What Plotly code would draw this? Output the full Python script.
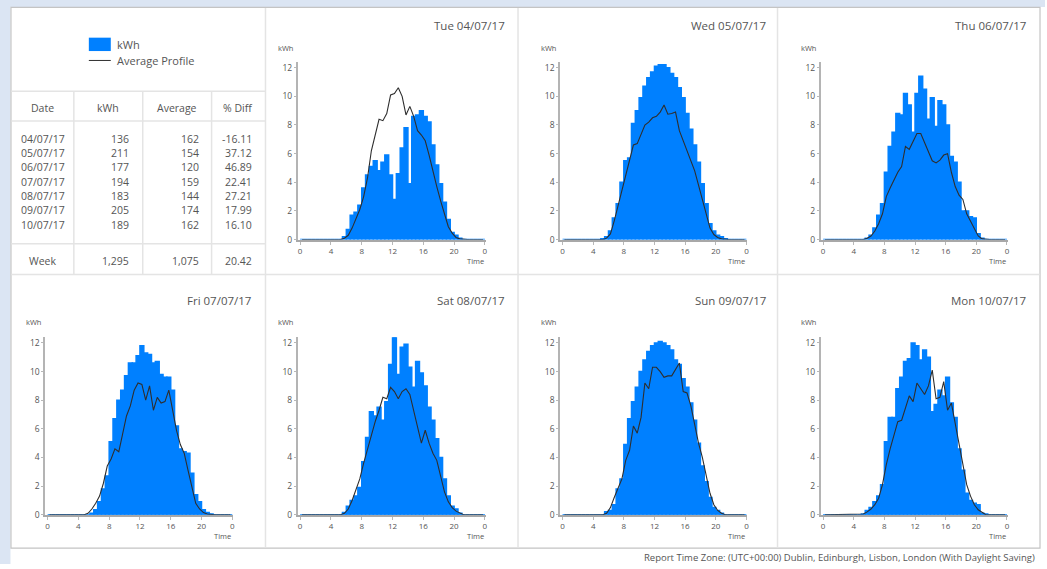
import plotly.graph_objects as go

W, H = 1047, 569

# ---------------- data ----------------
hours = [i * 0.5 + 0.25 for i in range(48)]          # half-hour slot centres
tick_vals = [0, 4, 8, 12, 16, 20, 24]
tick_text = ["0", "4", "8", "12", "16", "20", "0"]
y_ticks = [0, 2, 4, 6, 8, 10, 12]

kwh_tue = [0, 0, 0, 0, 0, 0, 0, 0, 0, 0, 0, 0.2,
           0.7, 1.7, 1.9, 2.4, 3.6, 4.5, 5.1, 5.5, 4.8, 5.4, 5.9, 4.5,
           2.8, 4.6, 6.4, 7.8, 3.9, 8.6, 8.7, 9.0, 8.6, 8.2, 6.6, 5.2,
           3.9, 2.6, 1.4, 0.5, 0.3, 0.1, 0, 0, 0, 0, 0, 0]
avg_tue = [0, 0, 0, 0, 0, 0, 0, 0, 0, 0, 0, 0.1,
           0.3, 0.8, 1.4, 2.1, 3.0, 4.3, 6.2, 7.3, 8.4, 8.3, 8.8, 10.1,
           10.2, 10.6, 10.0, 8.7, 9.3, 8.6, 7.6, 7.3, 6.9, 5.9, 4.7, 3.7,
           2.7, 1.7, 0.9, 0.45, 0.15, 0.05, 0, 0, 0, 0, 0, 0]

kwh_wed = [0, 0, 0, 0, 0, 0, 0, 0, 0, 0, 0.05, 0.2,
           0.6, 1.5, 2.5, 4.0, 5.5, 5.7, 8.1, 9.0, 9.9, 10.7, 11.3, 11.7,
           12.1, 12.2, 12.2, 12.0, 11.6, 11.3, 10.6, 9.9, 8.8, 7.7, 6.6, 5.4,
           3.9, 2.5, 1.1, 0.6, 0.3, 0.2, 0.05, 0, 0, 0, 0, 0]
avg_wed = [0, 0, 0, 0, 0, 0, 0, 0, 0, 0, 0, 0.1,
           0.4, 1.3, 2.4, 3.5, 4.6, 5.7, 6.6, 6.7, 7.3, 8.0, 8.2, 8.5,
           8.6, 8.9, 9.4, 8.75, 8.8, 8.9, 7.6, 6.9, 6.2, 5.6, 4.8, 3.8,
           2.8, 1.8, 0.8, 0.35, 0.15, 0.05, 0, 0, 0, 0, 0, 0]

kwh_thu = [0, 0, 0, 0, 0, 0, 0, 0, 0, 0, 0, 0.1,
           0.3, 0.8, 1.7, 2.5, 4.7, 6.5, 7.5, 8.8, 8.7, 10.2, 9.4, 7.5,
           10.2, 11.4, 10.5, 8.4, 9.9, 7.9, 9.7, 9.4, 8.0, 5.8, 5.4, 4.0,
           2.0, 2.0, 1.6, 1.5, 0.4, 0.1, 0, 0, 0, 0, 0, 0]
avg_thu = [0, 0, 0, 0, 0, 0, 0, 0, 0, 0, 0, 0.1,
           0.25, 0.6, 1.1, 1.8, 3.0, 3.6, 4.2, 4.7, 5.1, 6.5, 6.3, 6.8,
           7.4, 7.4, 6.8, 6.1, 5.5, 5.35, 5.55, 5.9, 6.0, 4.7, 3.7, 3.1,
           2.8, 1.8, 1.3, 0.7, 0.25, 0.05, 0, 0, 0, 0, 0, 0]

kwh_fri = [0, 0, 0, 0, 0, 0, 0, 0, 0, 0, 0, 0.1,
           0.35, 0.9, 1.8, 2.7, 5.1, 6.7, 8.0, 8.7, 9.7, 10.6, 10.6, 11.1,
           11.8, 11.3, 11.2, 10.6, 10.7, 9.8, 9.6, 9.6, 8.7, 6.2, 4.6, 4.4,
           4.3, 2.9, 1.4, 0.9, 0.35, 0.15, 0.05, 0, 0, 0, 0, 0]
avg_fri = [0, 0, 0, 0, 0, 0, 0, 0, 0, 0, 0.1, 0.4,
           0.8, 1.3, 2.2, 3.4, 3.9, 4.6, 4.4, 5.6, 6.9, 7.6, 8.7, 9.2,
           9.1, 8.0, 9.0, 7.3, 8.2, 7.8, 7.9, 8.7, 7.3, 5.9, 4.9, 4.3,
           3.1, 1.9, 0.8, 0.4, 0.15, 0.05, 0, 0, 0, 0, 0, 0]

kwh_sat = [0, 0, 0, 0, 0, 0, 0, 0, 0, 0, 0, 0.15,
           0.6, 1.0, 1.3, 1.9, 3.7, 5.4, 7.2, 6.9, 7.5, 6.6, 7.9, 10.5,
           12.4, 9.8, 11.7, 11.9, 10.3, 8.9, 10.7, 9.9, 9.0, 7.5, 6.6, 5.3,
           4.0, 2.5, 1.3, 0.6, 0.4, 0.1, 0, 0, 0, 0, 0, 0]
avg_sat = [0, 0, 0, 0, 0, 0, 0, 0, 0, 0, 0, 0.1,
           0.4, 1.0, 1.8, 2.5, 3.6, 4.6, 5.5, 6.5, 7.3, 8.2, 8.1, 8.9,
           8.6, 8.1, 8.6, 8.8, 8.4, 7.3, 6.0, 5.0, 5.9, 5.0, 4.3, 3.8,
           2.7, 1.6, 0.9, 0.5, 0.25, 0.1, 0, 0, 0, 0, 0, 0]

kwh_sun = [0, 0, 0, 0, 0, 0, 0, 0, 0, 0, 0, 0.2,
           0.3, 0.7, 1.8, 2.5, 4.9, 6.7, 7.9, 8.9, 10.0, 10.8, 11.4, 11.8,
           12.0, 12.1, 12.0, 11.8, 11.5, 10.8, 10.5, 9.5, 8.9, 7.8, 6.6, 5.0,
           3.4, 2.3, 1.2, 0.5, 0.3, 0.1, 0, 0, 0, 0, 0, 0]
avg_sun = [0, 0, 0, 0, 0, 0, 0, 0, 0, 0, 0, 0.1,
           0.5, 1.2, 1.9, 2.5, 3.8, 4.5, 6.2, 5.7, 6.8, 9.2, 8.8, 10.3,
           10.3, 10.0, 9.6, 9.7, 9.7, 10.2, 10.6, 8.6, 8.5, 7.6, 6.3, 5.0,
           4.0, 2.8, 1.5, 0.7, 0.3, 0.1, 0, 0, 0, 0, 0, 0]

kwh_mon = [0, 0, 0, 0, 0, 0, 0, 0, 0, 0, 0.05, 0.3,
           0.5, 0.9, 1.3, 2.1, 5.1, 6.8, 6.8, 8.8, 9.6, 10.7, 10.9, 12.0,
           11.8, 10.8, 11.5, 11.0, 7.2, 7.7, 8.7, 8.3, 9.6, 7.8, 6.8, 4.6,
           3.1, 1.5, 1.0, 0.8, 0.7, 0.1, 0.05, 0, 0, 0, 0, 0]
avg_mon = [0, 0, 0, 0, 0, 0, 0, 0, 0, 0, 0.05, 0.2,
           0.4, 0.7, 1.15, 2.1, 3.5, 4.6, 5.6, 6.5, 6.6, 7.4, 8.3, 7.9,
           9.2, 8.8, 8.4, 9.0, 10.1, 8.1, 8.2, 9.3, 7.3, 7.8, 6.3, 4.8,
           3.3, 2.1, 1.3, 0.7, 0.35, 0.15, 0, 0, 0, 0, 0, 0]

panel_titles = ["Tue 04/07/17", "Wed 05/07/17", "Thu 06/07/17", "Fri 07/07/17",
                "Sat 08/07/17", "Sun 09/07/17", "Mon 10/07/17"]
panel_kwh = [kwh_tue, kwh_wed, kwh_thu, kwh_fri, kwh_sat, kwh_sun, kwh_mon]
panel_avg = [avg_tue, avg_wed, avg_thu, avg_fri, avg_sat, avg_sun, avg_mon]

table_header = ["Date", "kWh", "Average", "% Diff"]
table_dates = ["04/07/17", "05/07/17", "06/07/17", "07/07/17", "08/07/17", "09/07/17", "10/07/17"]
table_kwh = ["136", "211", "177", "194", "183", "205", "189"]
table_avg = ["162", "154", "120", "159", "144", "174", "162"]
table_diff = ["-16.11", "37.12", "46.89", "22.41", "27.21", "17.99", "16.10"]
week_row = ["Week", "1,295", "1,075", "20.42"]

legend_bar = "kWh"
legend_line = "Average Profile"
footer = "Report Time Zone: (UTC+00:00) Dublin, Edinburgh, Lisbon, London (With Daylight Saving)"

# ---------------- styles / geometry (pixels) ----------------
BLUE = "#0080ff"
LINE = "#2e2e2e"
TXT = "#555555"
GRID = "#e4e4e4"
FONT = "Open Sans, Noto Sans, DejaVu Sans, sans-serif"

# (panel column index, row index) for each day
panel_pos = [(1, 0), (2, 0), (3, 0), (0, 1), (1, 1), (2, 1), (3, 1)]
col_axis_px = [(45.4, 233.5), (298.4, 486.6), (561.3, 748.6), (822.4, 1009.6)]
col_title_right = [253, 508, 769, 1030]
row_axis_px = [(62.5, 241.7), (340.2, 519.3)]
row_title_y = [26, 303]
row_kwh_y = [48, 325]
row_time_y = [263, 541]


def fx(px):
    return px / W


def fy(py):
    return 1 - py / H


fig = go.Figure()
layout = dict(
    width=W, height=H, autosize=False,
    margin=dict(l=0, r=0, t=0, b=0, pad=0),
    paper_bgcolor="white", plot_bgcolor="rgba(0,0,0,0)",
    showlegend=False, barmode="overlay",
    font=dict(family=FONT, color=TXT),
)
annotations = []
shapes = []

for k in range(7):
    n = k + 1
    xa = "x" if n == 1 else f"x{n}"
    ya = "y" if n == 1 else f"y{n}"
    col, row = panel_pos[k]
    x0, x1 = col_axis_px[col]
    yt, yb = row_axis_px[row]
    fig.add_trace(go.Bar(x=hours, y=panel_kwh[k], width=0.5,
                         marker=dict(color=BLUE, line=dict(width=1.5, color=BLUE)),
                         xaxis=xa, yaxis=ya, hoverinfo="skip"))
    fig.add_trace(go.Scatter(x=hours, y=panel_avg[k], mode="lines", line=dict(color=LINE, width=1.1),
                             xaxis=xa, yaxis=ya, hoverinfo="skip"))
    layout["xaxis" + ("" if n == 1 else str(n))] = dict(
        domain=[fx(x0), fx(x1)], anchor=ya, range=[-0.3, 24.1],
        tickmode="array", tickvals=tick_vals, ticktext=tick_text,
        ticks="outside", ticklen=3, tickwidth=1, tickcolor="#b8b8b8",
        tickfont=dict(size=8, color=TXT, family=FONT),
        showline=True, linecolor="#a8a8a8", linewidth=2,
        showgrid=False, zeroline=False, fixedrange=True,
    )
    layout["yaxis" + ("" if n == 1 else str(n))] = dict(
        domain=[fy(yb), fy(yt)], anchor=xa, range=[0, 12.4],
        tickmode="array", tickvals=y_ticks,
        ticks="outside", ticklen=2, tickwidth=1, tickcolor="#b8b8b8",
        tickfont=dict(size=8.5, color=TXT, family=FONT),
        showline=True, linecolor="#b4b4b4", linewidth=2,
        showgrid=False, zeroline=False, fixedrange=True,
    )
    annotations.append(dict(text=panel_titles[k], xref="paper", yref="paper",
                            x=fx(col_title_right[col]), y=fy(row_title_y[row]),
                            xanchor="right", yanchor="middle", showarrow=False,
                            font=dict(size=11.5, color=TXT, family=FONT)))
    annotations.append(dict(text="kWh", xref="paper", yref="paper",
                            x=fx(x0 - 12), y=fy(row_kwh_y[row]),
                            xanchor="center", yanchor="middle", showarrow=False,
                            font=dict(size=7.5, color=TXT, family=FONT)))
    annotations.append(dict(text="Time", xref="paper", yref="paper",
                            x=fx(x1), y=fy(row_time_y[row]),
                            xanchor="right", yanchor="middle", showarrow=False,
                            font=dict(size=7.5, color=TXT, family=FONT)))

# background strips, container and panel separators
shapes.append(dict(type="rect", xref="paper", yref="paper", x0=0, x1=1, y0=fy(7), y1=1,
                   fillcolor="#dbe5f3", line=dict(width=0), layer="below"))
shapes.append(dict(type="rect", xref="paper", yref="paper", x0=0, x1=fx(10.5), y0=0, y1=1,
                   fillcolor="#dbe5f3", line=dict(width=0), layer="below"))
shapes.append(dict(type="rect", xref="paper", yref="paper", x0=fx(11), x1=fx(1042), y0=fy(553), y1=fy(7.5),
                   fillcolor="white", line=dict(color="#c4c4c4", width=1.2), layer="below"))
for vx in [266, 519, 779]:
    shapes.append(dict(type="line", xref="paper", yref="paper", x0=fx(vx), x1=fx(vx), y0=fy(552), y1=fy(8),
                       line=dict(color=GRID, width=1.5)))
shapes.append(dict(type="line", xref="paper", yref="paper", x0=fx(11.5), x1=fx(1041.5), y0=fy(277), y1=fy(277),
                   line=dict(color=GRID, width=1.5)))
# table grid
for hy in [92, 122, 246]:
    shapes.append(dict(type="line", xref="paper", yref="paper", x0=fx(11.5), x1=fx(266), y0=fy(hy), y1=fy(hy),
                       line=dict(color=GRID, width=1.5)))
for vx in [74, 143, 212]:
    shapes.append(dict(type="line", xref="paper", yref="paper", x0=fx(vx), x1=fx(vx), y0=fy(277), y1=fy(92),
                       line=dict(color=GRID, width=1.5)))
# legend symbols
shapes.append(dict(type="rect", xref="paper", yref="paper", x0=fx(89), x1=fx(111), y0=fy(51.5), y1=fy(38),
                   fillcolor=BLUE, line=dict(width=0)))
shapes.append(dict(type="line", xref="paper", yref="paper", x0=fx(89), x1=fx(111), y0=fy(61), y1=fy(61),
                   line=dict(color=LINE, width=1)))
annotations.append(dict(text=legend_bar, xref="paper", yref="paper", x=fx(115), y=fy(44.5),
                        xanchor="left", yanchor="middle", showarrow=False, font=dict(size=11, color=TXT, family=FONT)))
annotations.append(dict(text=legend_line, xref="paper", yref="paper", x=fx(115), y=fy(61),
                        xanchor="left", yanchor="middle", showarrow=False, font=dict(size=11, color=TXT, family=FONT)))

# table text
TFS = 10.5
header_x = [42.5, 108, 177, 238]
for hx, t in zip(header_x, table_header):
    annotations.append(dict(text=t, xref="paper", yref="paper", x=fx(hx), y=fy(109),
                            xanchor="center", yanchor="middle", showarrow=False,
                            font=dict(size=TFS, color=TXT, family=FONT)))
for i in range(len(table_dates)):
    ry = 140 + 14.45 * i
    annotations.append(dict(text=table_dates[i], xref="paper", yref="paper", x=fx(19), y=fy(ry),
                            xanchor="left", yanchor="middle", showarrow=False,
                            font=dict(size=TFS, color=TXT, family=FONT)))
    for rx, vals in [(131, table_kwh), (201, table_avg), (254, table_diff)]:
        annotations.append(dict(text=vals[i], xref="paper", yref="paper", x=fx(rx), y=fy(ry),
                                xanchor="right", yanchor="middle", showarrow=False,
                                font=dict(size=TFS, color=TXT, family=FONT)))
annotations.append(dict(text=week_row[0], xref="paper", yref="paper", x=fx(42.5), y=fy(263),
                        xanchor="center", yanchor="middle", showarrow=False,
                        font=dict(size=TFS, color=TXT, family=FONT)))
for rx, t in zip([131, 201, 254], week_row[1:]):
    annotations.append(dict(text=t, xref="paper", yref="paper", x=fx(rx), y=fy(263),
                            xanchor="right", yanchor="middle", showarrow=False,
                            font=dict(size=TFS, color=TXT, family=FONT)))

annotations.append(dict(text=footer, xref="paper", yref="paper", x=fx(1039), y=fy(562),
                        xanchor="right", yanchor="middle", showarrow=False,
                        font=dict(size=9.5, color=TXT, family=FONT)))

layout["annotations"] = annotations
layout["shapes"] = shapes
fig.update_layout(**layout)

fig.write_html("out.html", config={"displayModeBar": False},
               post_script="document.body.style.margin='0';")
